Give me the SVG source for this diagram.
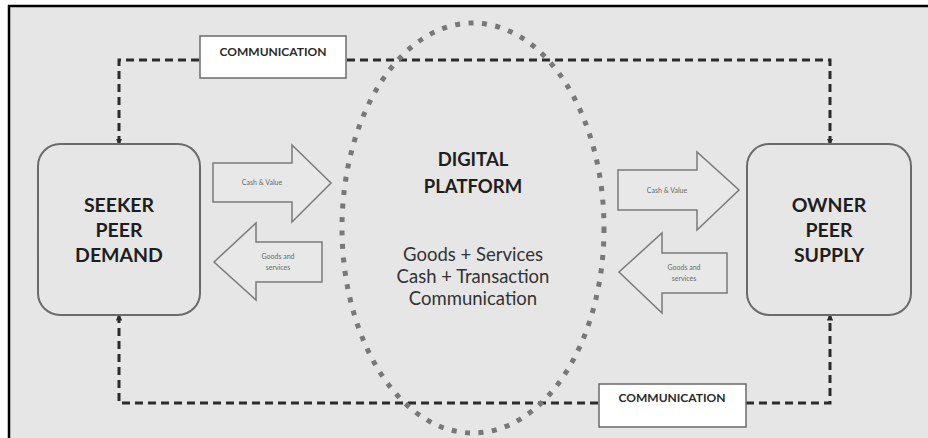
<svg xmlns="http://www.w3.org/2000/svg" width="928" height="438" viewBox="0 0 928 438">
  <defs>
    <style>
      .peer { fill: #e6e6e6; stroke: #6b6b6b; stroke-width: 2; }
      .peer-label { font-family: Lato, "Noto Sans", sans-serif; font-weight: bold; font-size: 19.5px; fill: #1e1e1e; text-anchor: middle; }
      .flow { fill: #e8e8e8; stroke: #7a7a7a; stroke-width: 1.5; stroke-linejoin: miter; }
      .flow-label { font-family: Lato, "Noto Sans", sans-serif; font-size: 7px; fill: #6a6a6a; text-anchor: middle; }
      .comm { fill: #ffffff; stroke: #6b6b6b; stroke-width: 1.5; }
      .comm-label { font-family: Lato, "Noto Sans", sans-serif; font-weight: bold; font-size: 12px; fill: #2a2a2a; text-anchor: middle; }
      .link { fill: none; stroke: #2b2b2b; stroke-width: 3; stroke-dasharray: 8 5; }
      .platform-ring { fill: none; stroke: #787878; stroke-width: 5; stroke-dasharray: 5 8.5; }
      .platform-title { font-family: Lato, "Noto Sans", sans-serif; font-weight: bold; font-size: 18.5px; fill: #1e1e1e; text-anchor: middle; }
      .platform-text { font-family: Lato, "Noto Sans", sans-serif; font-size: 18.5px; fill: #333; text-anchor: middle; }
    </style>
    <marker id="tip" viewBox="0 0 6 6" refX="5" refY="3" markerWidth="2.2" markerHeight="2.2" orient="auto-start-reverse">
      <path d="M0,0 L6,3 L0,6 Z" fill="#2b2b2b"/>
    </marker>
  </defs>

  <!-- page background and frame -->
  <rect x="0" y="0" width="928" height="438" fill="#ffffff"/>
  <rect x="9" y="6" width="919" height="432" fill="#e6e6e6"/>
  <path d="M9,438 V6 H928" fill="none" stroke="#000" stroke-width="2.5"/>

  <!-- dashed communication links -->
  <g id="connectors">
    <path class="link" d="M119,144 V60 H830 V144" marker-start="url(#tip)" marker-end="url(#tip)"/>
    <path class="link" d="M119,315 V403 H830 V315" marker-start="url(#tip)" marker-end="url(#tip)"/>
  </g>

  <!-- platform boundary -->
  <g id="platform">
    <ellipse class="platform-ring" cx="473" cy="228" rx="131" ry="205"/>
    <text class="platform-title" x="473" y="166">DIGITAL</text>
    <text class="platform-title" x="473" y="193">PLATFORM</text>
    <text class="platform-text" x="473" y="261">Goods + Services</text>
    <text class="platform-text" x="473" y="283">Cash + Transaction</text>
    <text class="platform-text" x="473" y="305">Communication</text>
  </g>

  <g id="comm-top">
    <rect class="comm" x="200" y="36" width="146" height="42"/>
    <text class="comm-label" x="273" y="56">COMMUNICATION</text>
  </g>

  <g id="comm-bottom">
    <rect class="comm" x="599" y="384" width="147" height="43"/>
    <text class="comm-label" x="672" y="402">COMMUNICATION</text>
  </g>

  <g id="seeker">
    <rect class="peer" x="38" y="144" width="162" height="171" rx="22"/>
    <text class="peer-label" x="119" y="212">SEEKER</text>
    <text class="peer-label" x="119" y="237">PEER</text>
    <text class="peer-label" x="119" y="262">DEMAND</text>
  </g>

  <g id="owner">
    <rect class="peer" x="747" y="144" width="164" height="171" rx="22"/>
    <text class="peer-label" x="829" y="212">OWNER</text>
    <text class="peer-label" x="829" y="237">PEER</text>
    <text class="peer-label" x="829" y="262">SUPPLY</text>
  </g>

  <g id="seeker-cash">
    <path class="flow" d="M213,163 H292 V145 L331,183 L292,222 V202 H213 Z"/>
    <text class="flow-label" x="262" y="185">Cash &amp; Value</text>
  </g>

  <g id="seeker-goods">
    <path class="flow" d="M322,242 H256 V223 L214,262 L256,300 V282 H322 Z"/>
    <text class="flow-label" x="278" y="259">Goods and</text>
    <text class="flow-label" x="278" y="270">services</text>
  </g>

  <g id="owner-cash">
    <path class="flow" d="M618,170 H697 V152 L739,190 L697,230 V210 H618 Z"/>
    <text class="flow-label" x="667" y="193">Cash &amp; Value</text>
  </g>

  <g id="owner-goods">
    <path class="flow" d="M727,253 H662 V233 L619,272 L662,313 V293 H727 Z"/>
    <text class="flow-label" x="684" y="270">Goods and</text>
    <text class="flow-label" x="684" y="281">services</text>
  </g>
</svg>
